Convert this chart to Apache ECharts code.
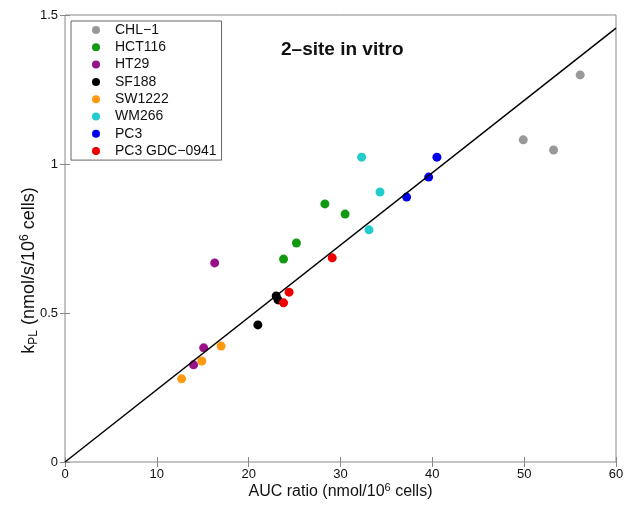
<!DOCTYPE html>
<html>
<head>
<meta charset="utf-8">
<script src="https://cdn.jsdelivr.net/npm/echarts@6/dist/echarts.min.js"></script>
<style>html,body{margin:0;padding:0;background:#fff}#c{width:625px;height:505px}</style>
</head>
<body>
<div id="c"></div>
<script>
var seriesNames = ['CHL\u22121','HCT116','HT29','SF188','SW1222','WM266','PC3','PC3 GDC\u22120941'];
var seriesColors = ['#999999','#119911','#991188','#000000','#ff9911','#22cccc','#0000ee','#ee0000'];
var chl1 = [[49.9,1.081],[53.2,1.047],[56.1,1.299]];
var hct116 = [[28.3,0.866],[30.5,0.832],[25.2,0.735],[23.8,0.681]];
var ht29 = [[16.3,0.668],[15.1,0.383],[14.0,0.326]];
var sf188 = [[23.0,0.557],[23.2,0.544],[21.0,0.460]];
var sw1222 = [[17.0,0.389],[14.9,0.339],[12.7,0.279]];
var wm266 = [[32.3,1.023],[34.3,0.906],[33.1,0.779]];
var pc3 = [[40.5,1.023],[39.6,0.956],[37.2,0.889]];
var pc3gdc = [[29.1,0.685],[24.4,0.570],[23.8,0.534]];
var fitLine = [[0,0],[60,1.456]];
var xTicks = [0,10,20,30,40,50,60];
var yTicks = [0,0.5,1,1.5];

var allData = [chl1,hct116,ht29,sf188,sw1222,wm266,pc3,pc3gdc];
var font = 'Liberation Sans, Arial, Helvetica, sans-serif';
var series = allData.map(function(d,i){
  return {name: seriesNames[i], type:'scatter', data:d, symbol:'circle', symbolSize:9,
    itemStyle:{color:seriesColors[i], opacity:1}, z:2};
});
series.push({name:'fit', type:'line', data:fitLine, symbol:'none', lineStyle:{color:'#000',width:1.5}, z:3, silent:true});

var chart = echarts.init(document.getElementById('c'), null, {renderer:'canvas'});
chart.setOption({
  animation:false,
  backgroundColor:'#fff',
  title:{text:'2\u2013site in vitro', left:276, top:35, textStyle:{fontFamily:font, fontSize:19, fontWeight:'bold', color:'#111'}},
  grid:{left:65, right:9, top:15, bottom:43, outerBoundsMode:'none', containLabel:false, show:true, borderColor:'#888', borderWidth:1},
  legend:{data:seriesNames, orient:'vertical', left:71, top:21,
    padding:[2,5,2,21], itemGap:3.3, itemWidth:8, itemHeight:12, icon:'circle',
    borderColor:'#666', borderWidth:1, backgroundColor:'#fff',
    textStyle:{fontFamily:font, fontSize:14, color:'#111', padding:[0,0,0,10]}},
  xAxis:[{type:'value', min:0, max:60, interval:10, position:'bottom',
    axisLine:{show:false}, splitLine:{show:false},
    axisTick:{show:true, inside:true, length:5, lineStyle:{color:'#888'}},
    axisLabel:{fontFamily:font, fontSize:13, color:'#111', margin:6},
    name:'AUC ratio (nmol/10{sup|6} cells)', nameLocation:'middle', nameGap:20, nameMoveOverlap:false,
    nameTextStyle:{fontFamily:font, fontSize:16, color:'#111', rich:{sup:{fontFamily:font, fontSize:11, color:'#111', verticalAlign:'top', padding:[0,0,8,0]}}}},
   {type:'value', min:0, max:60, interval:10, position:'top',
    axisLine:{show:false}, splitLine:{show:false}, axisLabel:{show:false},
    axisTick:{show:true, inside:true, length:5, lineStyle:{color:'#888'}}}],
  yAxis:[{type:'value', min:0, max:1.5, interval:0.5, position:'left',
    axisLine:{show:false}, splitLine:{show:false},
    axisTick:{show:true, inside:true, length:5, lineStyle:{color:'#888'}},
    axisLabel:{fontFamily:font, fontSize:13, color:'#111', margin:7},
    name:'k{sub|PL} (nmol/s/10{sup|6} cells)', nameLocation:'middle', nameGap:25, nameRotate:90, nameMoveOverlap:false,
    nameTextStyle:{fontFamily:font, fontSize:18, color:'#111', padding:[0,64,0,0], rich:{
      sub:{fontFamily:font, fontSize:12, color:'#111', verticalAlign:'bottom', padding:[9,0,0,0]},
      sup:{fontFamily:font, fontSize:12, color:'#111', verticalAlign:'top', padding:[0,0,9,0]}}}},
   {type:'value', min:0, max:1.5, interval:0.5, position:'right',
    axisLine:{show:false}, splitLine:{show:false}, axisLabel:{show:false},
    axisTick:{show:true, inside:true, length:5, lineStyle:{color:'#888'}}}],
  series:series
});
</script>
</body>
</html>
